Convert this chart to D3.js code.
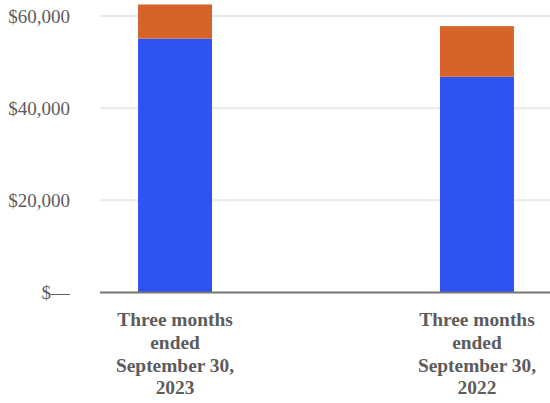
<!DOCTYPE html>
<html>
<head>
<meta charset="utf-8">
<script src="https://cdn.jsdelivr.net/npm/d3@7"></script>
<style>
  html, body { margin: 0; padding: 0; background: #ffffff; }
  svg { display: block; }
</style>
</head>
<body>
<svg id="chart" width="550" height="403"></svg>
<script>
// Quarterly totals, split into two stacked components (USD)
const categories = [
  ["Three months", "ended", "September 30,", "2023"],
  ["Three months", "ended", "September 30,", "2022"]
];
const categoryKeys = ["Q3 2023", "Q3 2022"];
const lowerSeries = [55100, 46800];
const upperSeries = [7400, 11000];
const tickValues = [0, 20000, 40000, 60000];
const tickLabels = ["$\u2014", "$20,000", "$40,000", "$60,000"];

const seriesKeys = ["lower", "upper"];
const colors = { lower: "#2f53f0", upper: "#d6632a" };

const rows = categoryKeys.map((k, i) => ({ key: k, lower: lowerSeries[i], upper: upperSeries[i] }));
const stacked = d3.stack().keys(seriesKeys)(rows);

const svg = d3.select("#chart");
const plotLeft = 100, plotRight = 552;

const x = d3.scaleBand()
  .domain(categoryKeys)
  .range([plotLeft, plotRight])
  .paddingInner(0.755)
  .paddingOuter(0.126);

const y = d3.scaleLinear()
  .domain([0, 60000])
  .range([292.5, 16]);

// Horizontal gridlines
svg.append("g")
  .selectAll("line")
  .data(tickValues.filter(v => v !== 0))
  .join("line")
  .attr("x1", plotLeft)
  .attr("x2", 550)
  .attr("y1", d => y(d))
  .attr("y2", d => y(d))
  .attr("stroke", "#e9e9e9")
  .attr("stroke-width", 2);

// Stacked bars
svg.append("g")
  .selectAll("g")
  .data(stacked)
  .join("g")
  .attr("fill", d => colors[d.key])
  .selectAll("rect")
  .data(d => d)
  .join("rect")
  .attr("x", d => x(d.data.key))
  .attr("width", x.bandwidth())
  .attr("y", d => y(d[1]))
  .attr("height", d => y(d[0]) - y(d[1]));

// Baseline
svg.append("line")
  .attr("x1", plotLeft)
  .attr("x2", 550)
  .attr("y1", y(0))
  .attr("y2", y(0))
  .attr("stroke", "#767676")
  .attr("stroke-width", 2);

// Y axis labels
const yAxis = d3.axisLeft(y)
  .tickValues(tickValues)
  .tickFormat((d, i) => tickLabels[i])
  .tickSize(0)
  .tickPadding(0);

const yg = svg.append("g")
  .attr("transform", "translate(70,0)")
  .call(yAxis);
yg.select(".domain").remove();
yg.selectAll("text")
  .attr("font-family", "'Liberation Serif', 'Times New Roman', serif")
  .attr("font-size", 19)
  .attr("fill", "#5c5c5c");

// Category labels (multi-line)
const labelGroup = svg.append("g")
  .attr("font-family", "'Liberation Serif', 'Times New Roman', serif")
  .attr("font-size", 19.4)
  .attr("font-weight", "bold")
  .attr("fill", "#5c5c5c")
  .attr("text-anchor", "middle");

categoryKeys.forEach((k, i) => {
  const cx = x(k) + x.bandwidth() / 2;
  const t = labelGroup.append("text").attr("x", cx).attr("y", 325.7);
  categories[i].forEach((line, j) => {
    t.append("tspan")
      .attr("x", cx)
      .attr("dy", j === 0 ? 0 : 22.9)
      .text(line);
  });
});
</script>
</body>
</html>
